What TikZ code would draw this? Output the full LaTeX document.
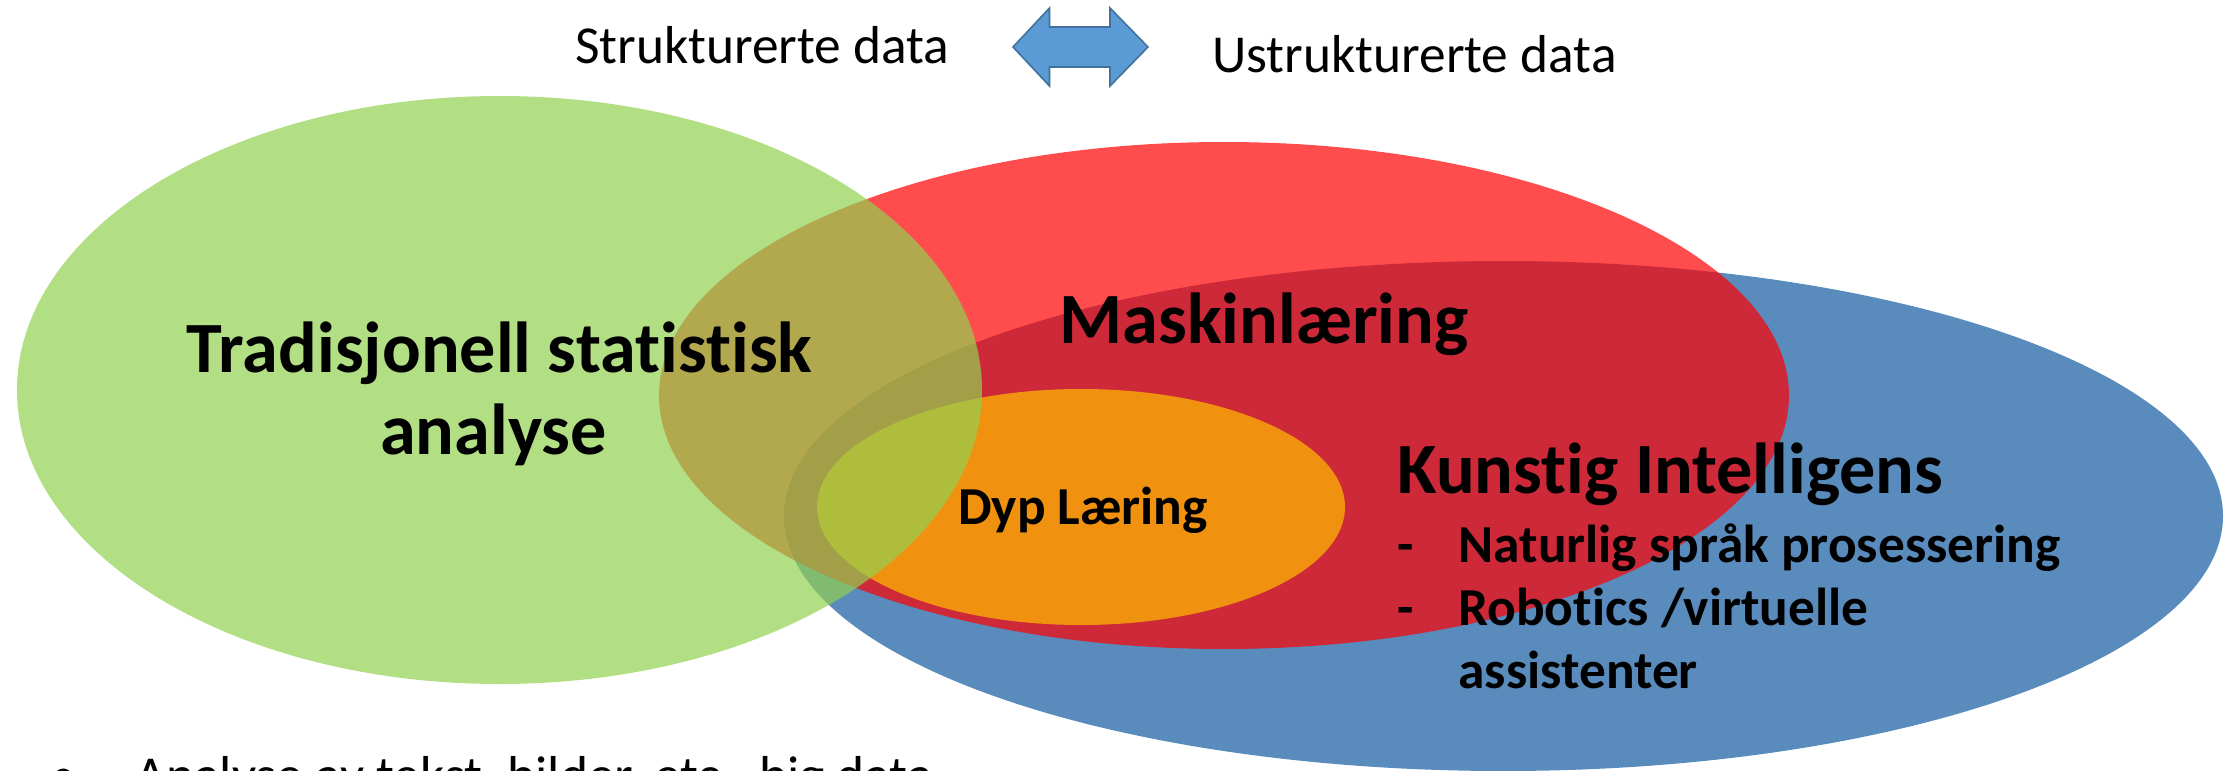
\documentclass[tikz,border=0pt]{standalone}
\usepackage{fontspec}
\setmainfont[Ligatures=NoCommon]{Carlito}
\definecolor{kiblue}{RGB}{89,139,188}
\definecolor{mlred}{RGB}{255,0,0}
\definecolor{dlorange}{RGB}{255,192,0}
\definecolor{tsgreen}{RGB}{146,208,80}
\definecolor{arrowfill}{RGB}{91,155,213}
\definecolor{arrowline}{RGB}{65,113,156}
\tikzset{
  bigtxt/.style={font=\fontsize{36.1pt}{43pt}\selectfont\bfseries, inner sep=0pt, anchor=base},
  midtxt/.style={font=\fontsize{26.7pt}{32pt}\selectfont\bfseries, inner sep=0pt, anchor=base west},
  plaintxt/.style={font=\fontsize{26.7pt}{32pt}\selectfont, inner sep=0pt, anchor=base west},
  blob/.style={fill opacity=0.7, draw=none},
}
\begin{document}
\begin{tikzpicture}[x=0.5pt, y=-0.5pt]
\useasboundingbox (0,0) rectangle (2234,771);
\clip (0,0) rectangle (2234,771);
% ellipses
\fill[kiblue] (1503.5,516) ellipse [x radius=359.75pt, y radius=127.5pt];
\fill[mlred, blob] (1224,395.5) ellipse [x radius=282.5pt, y radius=126.75pt];
\fill[dlorange, blob] (1081,507) ellipse [x radius=132pt, y radius=59pt];
\fill[tsgreen, blob] (499.5,390) ellipse [x radius=241.25pt, y radius=147pt];
% double arrow
\draw[fill=arrowfill, draw=arrowline, line width=0.8pt, line join=miter]
  (1013,47) -- (1049.5,8) -- (1049.5,27) -- (1110,27) -- (1110,8) -- (1148,47)
  -- (1110,86) -- (1110,67) -- (1049.5,67) -- (1049.5,86) -- cycle;
% texts
\node[plaintxt] (sd) at (575,63) {Strukturerte data};
\node[plaintxt] (ud) at (1212,72) {Ustrukturerte data};
\node[bigtxt] (tsa1) at (499.5,372) {Tradisjonell statistisk};
\node[bigtxt] (tsa2) at (493.5,454) {analyse};
\node[bigtxt] (ml) at (1264,343) {Maskinlæring};
\node[bigtxt, anchor=base west] (ki) at (1397,493) {Kunstig Intelligens};
\node[midtxt] (d1) at (1397,562) {-};
\node[midtxt] (nlp) at (1458,562) {Naturlig språk prosessering};
\node[midtxt] (d2) at (1397,625) {-};
\node[midtxt] (rob) at (1458,625) {Robotics /virtuelle};
\node[midtxt] (ass) at (1458,688) {assistenter};
\node[midtxt, anchor=base] (dl) at (1083,524) {Dyp Læring};
\node[plaintxt] (bul) at (50,793) {•};
\node[plaintxt] (bt) at (135,793) {Analyse av tekst, bilder, etc., big data};
\end{tikzpicture}
\end{document}
